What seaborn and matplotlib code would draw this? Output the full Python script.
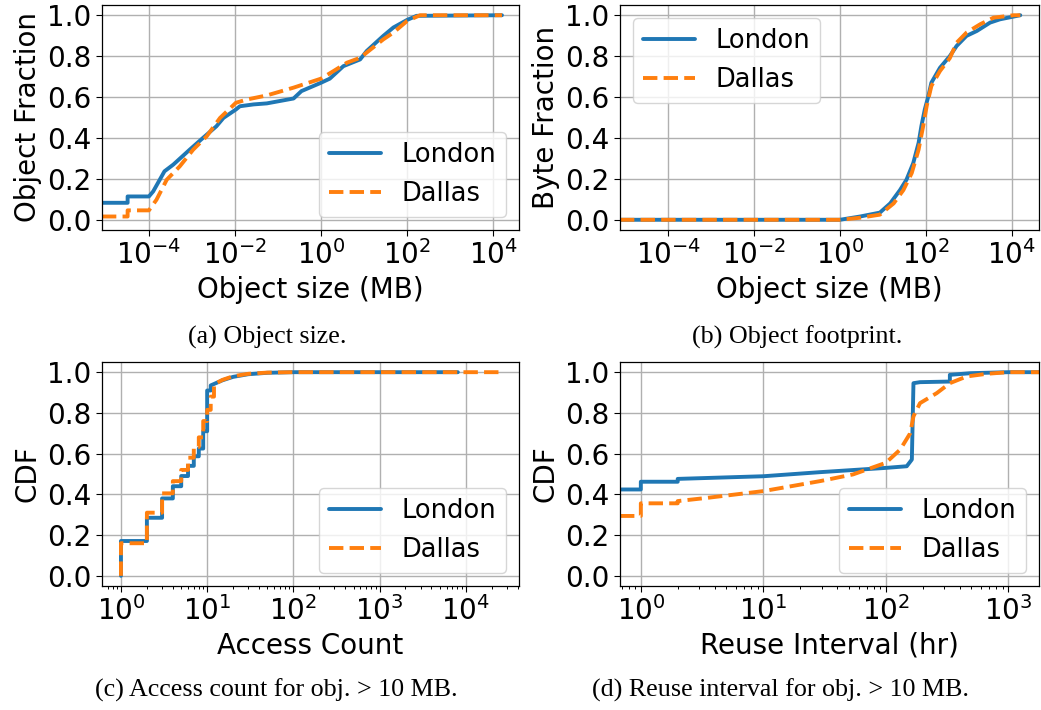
import numpy as np
import pandas as pd
import matplotlib
matplotlib.use("Agg")
import matplotlib.pyplot as plt
import matplotlib.ticker as mticker
import seaborn as sns

# ---------------- data ----------------
# (a) Object size CDF
a_lon_x = [8.1e-6, 3.2e-5, 3.2e-5, 1.0e-4, 1.26e-4, 2.3e-4, 3.7e-4, 8.9e-4, 1.8e-3, 3.7e-3,
           5.4e-3, 1.05e-2, 1.3e-2, 2.7e-2, 5.5e-2, 0.23, 0.35, 1.0, 1.6, 3.3, 8.1, 11.5,
           28, 48, 100, 166, 1.6e4]
a_lon_y = [0.083, 0.083, 0.114, 0.114, 0.139, 0.237, 0.27, 0.343, 0.40, 0.457,
           0.498, 0.539, 0.555, 0.564, 0.569, 0.593, 0.629, 0.67, 0.69, 0.751, 0.784, 0.825,
           0.899, 0.94, 0.977, 0.997, 1.0]
a_dal_x = [8.1e-6, 3.2e-5, 3.2e-5, 1.0e-4, 1.5e-4, 2.6e-4, 5.2e-4, 1.07e-3, 2.2e-3, 4.5e-3,
           1.05e-2, 1.9e-2, 5.5e-2, 0.23, 1.0, 1.95, 4.0, 8.1, 28, 48, 100, 200, 1.6e4]
a_dal_y = [0.016, 0.016, 0.046, 0.046, 0.098, 0.196, 0.261, 0.343, 0.408, 0.498,
           0.572, 0.588, 0.608, 0.646, 0.69, 0.727, 0.768, 0.792, 0.882, 0.915, 0.972, 1.0, 1.0]

# (b) Object footprint (byte fraction)
b_lon_x = [7.4e-6, 1.0, 2.95, 8.5, 14.8, 25, 35.5, 51, 68, 79, 95, 115, 135, 214, 363, 525,
           890, 1550, 3160, 5370, 1.6e4]
b_lon_y = [0.0, 0.0, 0.016, 0.035, 0.08, 0.145, 0.196, 0.277, 0.376, 0.458, 0.54, 0.605,
           0.67, 0.743, 0.80, 0.85, 0.899, 0.923, 0.964, 0.98, 1.0]
b_dal_x = [7.4e-6, 1.0, 2.95, 8.5, 17.8, 30, 47, 68, 87, 105, 135, 214, 363, 525, 890,
           1860, 3800, 1.12e4, 1.6e4]
b_dal_y = [0.0, 0.0, 0.010, 0.025, 0.08, 0.145, 0.228, 0.343, 0.458, 0.556, 0.654, 0.727,
           0.79, 0.866, 0.915, 0.956, 0.988, 1.0, 1.0]

# (c) Access count for obj. > 10 MB
c_lon_x = [1, 1, 2, 2, 3, 3, 4, 4, 5, 5, 6, 6, 7, 7, 8, 8, 9, 9, 10, 10, 11, 11, 15, 20,
           30, 50, 100, 8100]
c_lon_y = [0.0, 0.171, 0.171, 0.285, 0.285, 0.38, 0.38, 0.44, 0.44, 0.49, 0.49, 0.54, 0.54,
           0.587, 0.587, 0.625, 0.625, 0.71, 0.71, 0.91, 0.91, 0.935, 0.96, 0.977, 0.99,
           0.997, 1.0, 1.0]
c_dal_x = [1, 1, 2, 2, 3, 3, 4, 4, 5, 5, 6, 6, 7, 7, 8, 8, 9, 9, 10, 10, 11, 11, 12, 12,
           15, 20, 30, 50, 100, 25000]
c_dal_y = [0.0, 0.16, 0.16, 0.31, 0.31, 0.405, 0.405, 0.465, 0.465, 0.52, 0.52, 0.58, 0.58,
           0.633, 0.633, 0.68, 0.68, 0.76, 0.76, 0.815, 0.815, 0.88, 0.88, 0.94, 0.962,
           0.98, 0.992, 0.998, 1.0, 1.0]

# (d) Reuse interval for obj. > 10 MB
d_lon_x = [0.676, 1, 1, 2, 2, 10, 29, 100, 148, 163, 168, 190, 333, 333, 490, 1000, 1780]
d_lon_y = [0.424, 0.424, 0.462, 0.462, 0.476, 0.489, 0.509, 0.53, 0.538, 0.571, 0.946,
           0.951, 0.954, 0.987, 0.995, 1.0, 1.0]
d_dal_x = [0.676, 1, 1, 2, 2, 3.5, 10, 29, 54, 100, 131, 158, 168, 190, 260, 333, 457, 665,
           1000, 1780]
d_dal_y = [0.294, 0.294, 0.356, 0.356, 0.367, 0.383, 0.416, 0.465, 0.498, 0.555, 0.62,
           0.70, 0.783, 0.848, 0.897, 0.946, 0.979, 0.992, 1.0, 1.0]

series_names = ["London", "Dallas"]
y_ticks = [0.0, 0.2, 0.4, 0.6, 0.8, 1.0]
captions = ["(a) Object size.", "(b) Object footprint.",
            "(c) Access count for obj. > 10 MB.", "(d) Reuse interval for obj. > 10 MB."]

# ---------------- style ----------------
sns.set_style("ticks", {"axes.grid": True, "grid.color": "#b0b0b0",
                        "axes.edgecolor": "black", "xtick.color": "black",
                        "ytick.color": "black", "text.color": "black",
                        "axes.labelcolor": "black"})
plt.rcParams["font.family"] = ["DejaVu Sans"]
plt.rcParams["mathtext.fontset"] = "dejavusans"
plt.rcParams["text.color"] = "black"
plt.rcParams["axes.labelcolor"] = "black"
plt.rcParams["xtick.labelcolor"] = "black"
plt.rcParams["ytick.labelcolor"] = "black"

W, H = 1041, 710
fig = plt.figure(figsize=(W / 100, H / 100), dpi=100)


def add_axes(left, top, right, bottom):
    return fig.add_axes([left / W, 1 - bottom / H, (right - left) / W, (bottom - top) / H])


ax_a = add_axes(102, 5, 519, 230)
ax_b = add_axes(620, 5, 1039, 230)
ax_c = add_axes(102, 362, 519, 586)
ax_d = add_axes(620, 362, 1039, 586)

blue = "#1f77b4"
orange = "#ff7f0e"
LW = 2.8


def draw(ax, lx, ly, dx, dy):
    sns.lineplot(x=lx, y=ly, ax=ax, estimator=None, sort=False, color=blue,
                 linewidth=LW, label=series_names[0])
    sns.lineplot(x=dx, y=dy, ax=ax, estimator=None, sort=False, color=orange,
                 linewidth=LW, linestyle="--", label=series_names[1])
    ax.set_xscale("log")
    ax.set_ylim(-0.05, 1.05)
    ax.set_yticks(y_ticks)
    ax.tick_params(labelsize=20, length=4, width=0.8, direction="out",
                   colors="black", labelcolor="black")
    ax.grid(True, color="#b0b0b0", linewidth=1.0)
    for s in ax.spines.values():
        s.set_color("black")
        s.set_linewidth(0.9)


draw(ax_a, a_lon_x, a_lon_y, a_dal_x, a_dal_y)
draw(ax_b, b_lon_x, b_lon_y, b_dal_x, b_dal_y)
draw(ax_c, c_lon_x, c_lon_y, c_dal_x, c_dal_y)
draw(ax_d, d_lon_x, d_lon_y, d_dal_x, d_dal_y)

# x ranges
ax_a.set_xlim(10 ** -5.09, 10 ** 4.6)
ax_b.set_xlim(10 ** -5.13, 10 ** 4.64)
ax_d.set_xlim(10 ** -0.17, 10 ** 3.25)

for ax in (ax_a, ax_b):
    ax.xaxis.set_major_locator(mticker.FixedLocator([1e-4, 1e-2, 1e0, 1e2, 1e4]))
    ax.xaxis.set_major_formatter(mticker.LogFormatterSciNotation())
    ax.xaxis.set_minor_locator(mticker.NullLocator())
for ax in (ax_c, ax_d):
    ax.xaxis.set_major_locator(mticker.LogLocator(base=10, numticks=10))
    ax.xaxis.set_minor_locator(mticker.LogLocator(base=10, subs=np.arange(2, 10), numticks=20))
    ax.xaxis.set_minor_formatter(mticker.NullFormatter())
    ax.tick_params(axis="x", which="minor", length=2.5, width=0.7, colors="black")

lab = dict(fontsize=20, color="black")
ax_a.set_xlabel("Object size (MB)", **lab)
ax_a.set_ylabel("Object Fraction", **lab)
ax_b.set_xlabel("Object size (MB)", **lab)
ax_b.set_ylabel("Byte Fraction", **lab)
ax_c.set_xlabel("Access Count", **lab)
ax_c.set_ylabel("CDF", **lab)
ax_d.set_xlabel("Reuse Interval (hr)", **lab)
ax_d.set_ylabel("CDF", **lab)

for ax, loc in ((ax_a, "lower right"), (ax_b, "upper left"),
                (ax_c, "lower right"), (ax_d, "lower right")):
    leg = ax.legend(loc=loc, fontsize=18.5, frameon=True, fancybox=True, framealpha=0.8,
                    edgecolor="#cccccc")
    for t in leg.get_texts():
        t.set_color("black")

cap_font = dict(family=["Liberation Serif"], fontsize=18.7, ha="center", va="center",
                color="black")
fig.text(267 / W, 1 - 337 / H, captions[0], **cap_font)
fig.text(797 / W, 1 - 337 / H, captions[1], **cap_font)
fig.text(276 / W, 1 - 690 / H, captions[2], **cap_font)
fig.text(780 / W, 1 - 690 / H, captions[3], **cap_font)

fig.savefig("out.png", dpi=100)
